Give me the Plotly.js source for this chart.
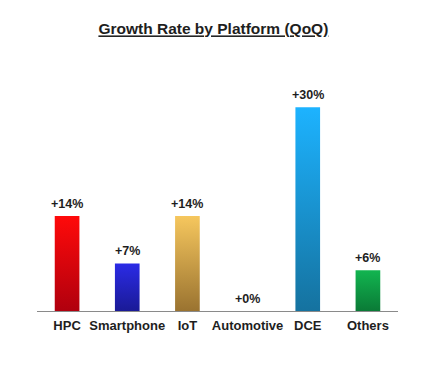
<!DOCTYPE html>
<html>
<head>
<meta charset="utf-8">
<script src="https://cdn.plot.ly/plotly-3.0.1.min.js"></script>
<style>
html,body{margin:0;padding:0;background:#fff;}
#chart{width:437px;height:380px;}
</style>
</head>
<body>
<div id="chart"></div>
<script>
const categories = ["HPC", "Smartphone", "IoT", "Automotive", "DCE", "Others"];
const growth = [14, 7, 14, 0, 30, 6];
const labels = ["+14%", "+7%", "+14%", "+0%", "+30%", "+6%"];
const topColors = ["#ff0a0a", "#2b2be6", "#f6c75e", "#ffffff", "#1db3ff", "#12b550"];
const bottomColors = ["#b0000e", "#1a1a96", "#9a7330", "#ffffff", "#15729f", "#0a7a36"];

const FONT = "Liberation Sans, Arial, sans-serif";

const trace = {
  type: "bar",
  x: categories,
  y: growth,
  width: 0.41,
  marker: {color: topColors, line: {width: 0}},
  hoverinfo: "skip"
};

const annotations = categories.map((c, i) => ({
  x: c, y: growth[i], xref: "x", yref: "y",
  text: labels[i], showarrow: false,
  yanchor: "bottom", yshift: 3,
  font: {family: FONT, size: 12.5, color: "#1e1e1e", weight: "bold"}
}));

const layout = {
  width: 437, height: 380,
  margin: {l: 37, r: 39, t: 80, b: 69},
  paper_bgcolor: "#fff", plot_bgcolor: "#fff",
  showlegend: false,
  title: {
    text: "Growth Rate by Platform (QoQ)",
    x: 0.4886, xref: "paper", xanchor: "center",
    y: 1 - 29/380, yref: "container", yanchor: "middle",
    font: {family: FONT, size: 15.5, color: "#1e1e1e", weight: "bold", lineposition: "under"}
  },
  xaxis: {
    showline: true, linecolor: "#8a8a8a", linewidth: 1,
    ticks: "", showgrid: false, zeroline: false,
    tickfont: {family: FONT, size: 13, color: "#1e1e1e", weight: "bold"},
    ticklabelstandoff: 2
  },
  yaxis: {
    range: [0, 34], visible: false, showgrid: false, zeroline: false, fixedrange: true
  },
  annotations: annotations
};

Plotly.newPlot("chart", [trace], layout, {displayModeBar: false, staticPlot: true}).then(gd => {
  const svg = gd.querySelector("svg.main-svg");
  const ns = "http://www.w3.org/2000/svg";
  let defs = svg.querySelector("defs");
  if (!defs) { defs = document.createElementNS(ns, "defs"); svg.insertBefore(defs, svg.firstChild); }
  categories.forEach((c, i) => {
    const g = document.createElementNS(ns, "linearGradient");
    g.setAttribute("id", "barGrad" + i);
    g.setAttribute("x1", "0"); g.setAttribute("y1", "0");
    g.setAttribute("x2", "0"); g.setAttribute("y2", "1");
    const s1 = document.createElementNS(ns, "stop");
    s1.setAttribute("offset", "0%"); s1.setAttribute("stop-color", topColors[i]);
    const s2 = document.createElementNS(ns, "stop");
    s2.setAttribute("offset", "100%"); s2.setAttribute("stop-color", bottomColors[i]);
    g.appendChild(s1); g.appendChild(s2);
    defs.appendChild(g);
  });
  const paths = gd.querySelectorAll(".trace.bars .point path");
  paths.forEach((p, i) => { p.style.fill = "url(#barGrad" + i + ")"; });
});
</script>
</body>
</html>
